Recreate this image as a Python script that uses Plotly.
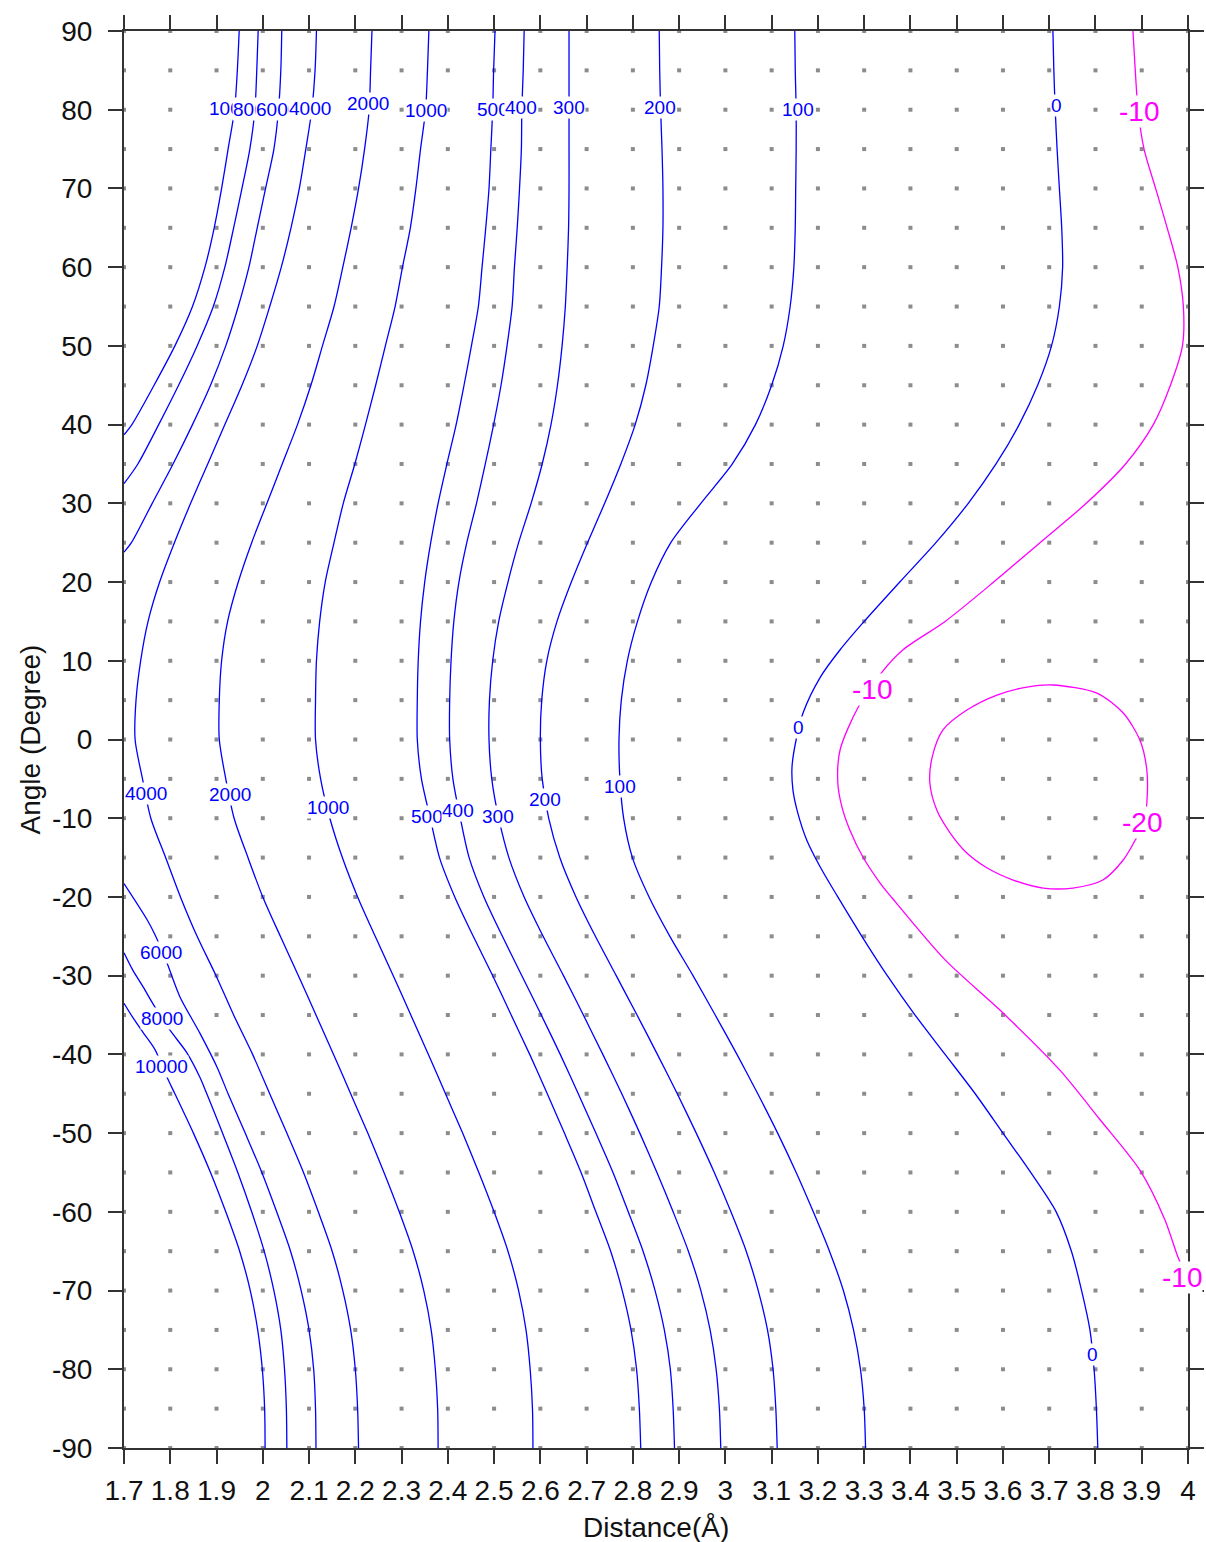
import plotly.graph_objects as go

# ---------------- axis ticks / grid ----------------
X_TICKS = [1.7, 1.8, 1.9, 2.0, 2.1, 2.2, 2.3, 2.4, 2.5, 2.6, 2.7, 2.8, 2.9,
           3.0, 3.1, 3.2, 3.3, 3.4, 3.5, 3.6, 3.7, 3.8, 3.9, 4.0]
X_TICK_TEXT = ["1.7", "1.8", "1.9", "2", "2.1", "2.2", "2.3", "2.4", "2.5", "2.6",
               "2.7", "2.8", "2.9", "3", "3.1", "3.2", "3.3", "3.4", "3.5", "3.6",
               "3.7", "3.8", "3.9", "4"]
Y_TICKS = [-90, -80, -70, -60, -50, -40, -30, -20, -10, 0, 10, 20, 30, 40, 50, 60, 70, 80, 90]
Y_TICK_TEXT = ["-90", "-80", "-70", "-60", "-50", "-40", "-30", "-20", "-10", "0",
               "10", "20", "30", "40", "50", "60", "70", "80", "90"]
DOT_ROWS = [-90, -85, -80, -75, -70, -65, -60, -55, -50, -45, -40, -35, -30, -25, -20,
            -15, -10, -5, 0, 5, 10, 15, 20, 25, 30, 35, 40, 45, 50, 55, 60, 65, 70, 75,
            80, 85, 90]

# ---------------- contour lines ----------------
Y_FULL = [90, 85, 80, 75, 70, 65, 60, 55, 50, 45, 40, 35, 30, 25, 20, 15, 10, 5, 0,
          -5, -10, -15, -20, -25, -30, -35, -40, -45, -50, -55, -60, -65, -70, -75,
          -80, -85, -90]

c4000_x = [2.116, 2.113, 2.106, 2.093, 2.079, 2.061, 2.040, 2.015, 1.988, 1.955, 1.918,
           1.881, 1.844, 1.809, 1.777, 1.752, 1.736, 1.726, 1.724,
           1.740, 1.758, 1.790, 1.822, 1.858, 1.899, 1.937, 1.978, 2.015, 2.052, 2.088,
           2.120, 2.150, 2.173, 2.190, 2.200, 2.205, 2.207]
c2000_x = [2.236, 2.233, 2.230, 2.220, 2.207, 2.191, 2.173, 2.154, 2.129, 2.104, 2.075,
           2.042, 2.009, 1.976, 1.947, 1.924, 1.911, 1.906, 1.906,
           1.920, 1.938, 1.968, 2.000, 2.038, 2.077, 2.115, 2.153, 2.190, 2.227, 2.262,
           2.295, 2.325, 2.348, 2.364, 2.373, 2.378, 2.379]
c1000_x = [2.359, 2.356, 2.352, 2.341, 2.331, 2.319, 2.302, 2.286, 2.265, 2.244, 2.222,
           2.199, 2.174, 2.154, 2.135, 2.123, 2.116, 2.114, 2.114,
           2.125, 2.145, 2.172, 2.205, 2.243, 2.282, 2.320, 2.358, 2.395, 2.432, 2.467,
           2.500, 2.530, 2.553, 2.569, 2.578, 2.583, 2.584]
c500_x = [2.502, 2.499, 2.497, 2.493, 2.489, 2.482, 2.474, 2.466, 2.451, 2.435, 2.418,
          2.398, 2.379, 2.363, 2.350, 2.341, 2.336, 2.334, 2.334,
          2.343, 2.362, 2.382, 2.415, 2.455, 2.497, 2.537, 2.577, 2.615, 2.652, 2.688,
          2.720, 2.752, 2.777, 2.796, 2.808, 2.814, 2.817]
c400_x = [2.565, 2.563, 2.560, 2.559, 2.555, 2.550, 2.544, 2.539, 2.528, 2.515, 2.499,
          2.481, 2.462, 2.441, 2.424, 2.413, 2.407, 2.404, 2.404,
          2.411, 2.427, 2.446, 2.478, 2.518, 2.560, 2.602, 2.643, 2.682, 2.720, 2.757,
          2.790, 2.822, 2.848, 2.868, 2.881, 2.887, 2.890]
c300_x = [2.662, 2.662, 2.662, 2.662, 2.662, 2.661, 2.658, 2.654, 2.647, 2.637, 2.623,
          2.604, 2.580, 2.553, 2.530, 2.510, 2.497, 2.490, 2.489,
          2.495, 2.510, 2.532, 2.565, 2.606, 2.650, 2.693, 2.735, 2.776, 2.815, 2.852,
          2.887, 2.920, 2.947, 2.967, 2.980, 2.987, 2.990]
c200_x = [2.857, 2.858, 2.860, 2.863, 2.865, 2.865, 2.862, 2.857, 2.844, 2.828, 2.805,
          2.774, 2.739, 2.702, 2.667, 2.636, 2.614, 2.603, 2.600,
          2.604, 2.618, 2.642, 2.677, 2.719, 2.764, 2.809, 2.853, 2.896, 2.937, 2.976,
          3.012, 3.045, 3.071, 3.091, 3.103, 3.109, 3.112]
c100_x = [3.150, 3.151, 3.153, 3.153, 3.152, 3.151, 3.148, 3.140, 3.125, 3.100, 3.065,
          3.015, 2.947, 2.882, 2.840, 2.810, 2.788, 2.775, 2.770,
          2.772, 2.780, 2.799, 2.835, 2.880, 2.930, 2.978, 3.025, 3.070, 3.113, 3.153,
          3.190, 3.225, 3.255, 3.277, 3.292, 3.300, 3.303]

c10000_up_y = [90, 85, 80, 75, 70, 65, 60, 55, 50, 45, 40, 38.7]
c10000_up_x = [1.949, 1.945, 1.939, 1.925, 1.911, 1.895, 1.875, 1.848, 1.810, 1.765, 1.717, 1.700]
c10000_lo_y = [-33.5, -35.3, -37.2, -39.4, -42.9, -45, -50, -55, -60, -65, -70, -75, -80, -85, -90]
c10000_lo_x = [1.700, 1.719, 1.741, 1.767, 1.793, 1.810, 1.850, 1.887, 1.920, 1.950, 1.973,
               1.989, 1.999, 2.004, 2.005]

c8000_up_y = [90, 85, 80, 75, 70, 65, 60, 55, 50, 45, 40, 35, 32.5]
c8000_up_x = [1.990, 1.987, 1.983, 1.972, 1.955, 1.937, 1.918, 1.893, 1.858, 1.818, 1.775,
              1.730, 1.700]
c8000_lo_y = [-27.1, -29.3, -31.4, -34.0, -36.9, -39.8, -42.9, -45, -50, -55, -60, -65, -70,
              -75, -80, -85, -90]
c8000_lo_x = [1.700, 1.719, 1.741, 1.767, 1.799, 1.836, 1.864, 1.879, 1.913, 1.946, 1.976,
              2.003, 2.024, 2.039, 2.047, 2.051, 2.052]

c6000_up_y = [90, 85, 80, 75, 70, 65, 60, 55, 50, 45, 40, 35, 30, 25, 23.8]
c6000_up_x = [2.041, 2.039, 2.034, 2.024, 2.006, 1.988, 1.970, 1.947, 1.920, 1.887, 1.848,
              1.806, 1.761, 1.716, 1.700]
c6000_lo_y = [-18.3, -22.9, -24.8, -28.4, -32.7, -37.3, -41.6, -45, -50, -55, -60, -65, -70,
              -75, -80, -85, -90]
c6000_lo_x = [1.700, 1.750, 1.767, 1.793, 1.821, 1.864, 1.901, 1.925, 1.962, 1.998, 2.030,
              2.060, 2.083, 2.100, 2.110, 2.114, 2.115]

c0_y = [90, 85, 80, 75, 70, 65, 60, 55, 50, 45, 40, 35, 30, 25, 20, 15, 11.4, 7.9, 3.4, 0,
        -3.5, -6.4, -9.0, -12.8, -16.2, -20, -25, -30, -35, -40, -45, -50, -55, -60, -65,
        -70, -75, -80, -85, -90]
c0_x = [3.708, 3.710, 3.713, 3.717, 3.722, 3.727, 3.729, 3.722, 3.705, 3.675, 3.635, 3.585,
        3.525, 3.455, 3.377, 3.300, 3.248, 3.205, 3.168, 3.153, 3.144, 3.146, 3.155, 3.176,
        3.205, 3.243, 3.295, 3.350, 3.410, 3.475, 3.540, 3.600, 3.660, 3.715, 3.748, 3.770,
        3.788, 3.797, 3.802, 3.805]

m10_y = [90, 85, 80, 75, 70, 65, 60, 55, 50, 45, 40, 35, 30, 25, 20, 15, 11.4, 8.6, 4.1,
         -1.3, -5.5, -8.6, -11.5, -14.9, -18.2, -20.1, -28.0, -34.4, -42.0, -48.3, -54.7,
         -61.0, -65.7, -68.6]
m10_x = [3.881, 3.886, 3.892, 3.905, 3.930, 3.955, 3.978, 3.990, 3.988, 3.962, 3.925, 3.865,
         3.780, 3.680, 3.580, 3.475, 3.384, 3.339, 3.287, 3.248, 3.243, 3.252, 3.269, 3.297,
         3.334, 3.360, 3.475, 3.594, 3.723, 3.810, 3.896, 3.950, 3.978, 4.000]

m20_x = [3.708, 3.803, 3.860, 3.896, 3.911, 3.911, 3.905, 3.886, 3.860, 3.816, 3.751, 3.687,
         3.622, 3.566, 3.522, 3.486, 3.457, 3.442, 3.447, 3.470, 3.522, 3.587, 3.652, 3.708]
m20_y = [6.92, 5.90, 3.36, -0.07, -3.88, -8.07, -10.5, -12.77, -15.31, -17.85, -18.87,
         -18.87, -17.85, -16.33, -14.42, -11.88, -8.96, -5.53, -2.23, 1.2, 3.74, 5.65, 6.66,
         6.92]

# ---------------- contour labels ----------------
BLUE_LABEL_TEXT = ["10000", "8000", "6000", "4000", "2000", "1000", "500", "400", "300",
                   "200", "100", "0",
                   "4000", "2000", "1000", "500", "400", "300", "200", "100", "0",
                   "6000", "8000", "10000", "100", "0"]
BLUE_LABEL_X = [1.942, 1.981, 2.031, 2.103, 2.227, 2.352, 2.498, 2.559, 2.663, 2.859, 3.156,
                3.716,
                1.748, 1.929, 2.141, 2.356, 2.422, 2.508, 2.610, 2.772, 3.159,
                1.780, 1.782, 1.782, 3.302, 3.793]
BLUE_LABEL_Y = [80.2, 80.0, 80.0, 80.15, 80.8, 79.9, 80.0, 80.3, 80.3, 80.3, 80.0, 80.5,
                -6.9, -7.0, -8.6, -9.8, -9.0, -9.8, -7.6, -6.0, 1.5,
                -27.0, -35.5, -41.5, -90.1, -78.1]
MAG_LABEL_TEXT = ["-10", "-10", "-20", "-10"]
MAG_LABEL_X = [3.895, 3.317, 3.901, 3.987]
MAG_LABEL_Y = [79.8, 6.3, -10.5, -68.3]

BLUE = "#0000ff"
MAGENTA = "#ff00ff"
TICK_FONT = "Liberation Sans, Arial"

fig = go.Figure()

# grid dots
dot_x = [x for y in DOT_ROWS for x in X_TICKS]
dot_y = [y for y in DOT_ROWS for x in X_TICKS]
fig.add_trace(go.Scatter(x=dot_x, y=dot_y, mode="markers",
                         marker=dict(symbol="square", size=4, color="#8c8c8c"),
                         hoverinfo="skip", showlegend=False, cliponaxis=False))

blue_lines = [
    (c10000_up_x, c10000_up_y), (c10000_lo_x, c10000_lo_y),
    (c8000_up_x, c8000_up_y), (c8000_lo_x, c8000_lo_y),
    (c6000_up_x, c6000_up_y), (c6000_lo_x, c6000_lo_y),
    (c4000_x, Y_FULL), (c2000_x, Y_FULL), (c1000_x, Y_FULL), (c500_x, Y_FULL),
    (c400_x, Y_FULL), (c300_x, Y_FULL), (c200_x, Y_FULL), (c100_x, Y_FULL),
    (c0_x, c0_y),
]
for xs, ys in blue_lines:
    fig.add_trace(go.Scatter(x=xs, y=ys, mode="lines",
                             line=dict(color=BLUE, width=1.3, shape="spline", smoothing=0.8),
                             hoverinfo="skip", showlegend=False))
for xs, ys in [(m10_x, m10_y), (m20_x, m20_y)]:
    fig.add_trace(go.Scatter(x=xs, y=ys, mode="lines",
                             line=dict(color=MAGENTA, width=1.3, shape="spline", smoothing=0.8),
                             hoverinfo="skip", showlegend=False))

annotations = []
for t, x, y in zip(BLUE_LABEL_TEXT, BLUE_LABEL_X, BLUE_LABEL_Y):
    annotations.append(dict(x=x, y=y, xref="x", yref="y", text=t, showarrow=False,
                            font=dict(family="Liberation Sans, Arial", size=19, color=BLUE),
                            bgcolor="white", borderpad=0))
for t, x, y in zip(MAG_LABEL_TEXT, MAG_LABEL_X, MAG_LABEL_Y):
    annotations.append(dict(x=x, y=y, xref="x", yref="y", text=t, showarrow=False,
                            font=dict(family="Liberation Sans, Arial", size=28, color=MAGENTA),
                            bgcolor="white", borderpad=0))
annotations.append(dict(x=0.5, y=0, xref="paper", yref="paper", text="Distance(Å)",
                        showarrow=False, yanchor="middle", yshift=-79,
                        font=dict(family="Liberation Sans, Arial", size=28, color="#111")))
annotations.append(dict(x=0, y=0.5, xref="paper", yref="paper", text="Angle (Degree)",
                        showarrow=False, textangle=-90, xanchor="center", xshift=-94,
                        font=dict(family="Liberation Sans, Arial", size=28, color="#111")))

axis_common = dict(showgrid=False, zeroline=False, showline=True, linecolor="#333",
                   linewidth=2, mirror="ticks", ticks="outside", ticklen=14, tickwidth=2,
                   tickcolor="#333", automargin=False,
                   tickfont=dict(family=TICK_FONT, size=28, color="#111"))

fig.update_layout(
    width=1206, height=1542, autosize=False,
    margin=dict(l=124, r=18, t=31, b=94),
    paper_bgcolor="white", plot_bgcolor="white",
    showlegend=False,
    xaxis=dict(range=[1.7, 4.0], tickmode="array", tickvals=X_TICKS, ticktext=X_TICK_TEXT,
               ticklabelstandoff=2, **axis_common),
    yaxis=dict(range=[-90, 90], tickmode="array", tickvals=Y_TICKS, ticktext=Y_TICK_TEXT,
               ticklabelstandoff=10, **axis_common),
    annotations=annotations,
)

fig.write_html("out.html", config={"responsive": False})
